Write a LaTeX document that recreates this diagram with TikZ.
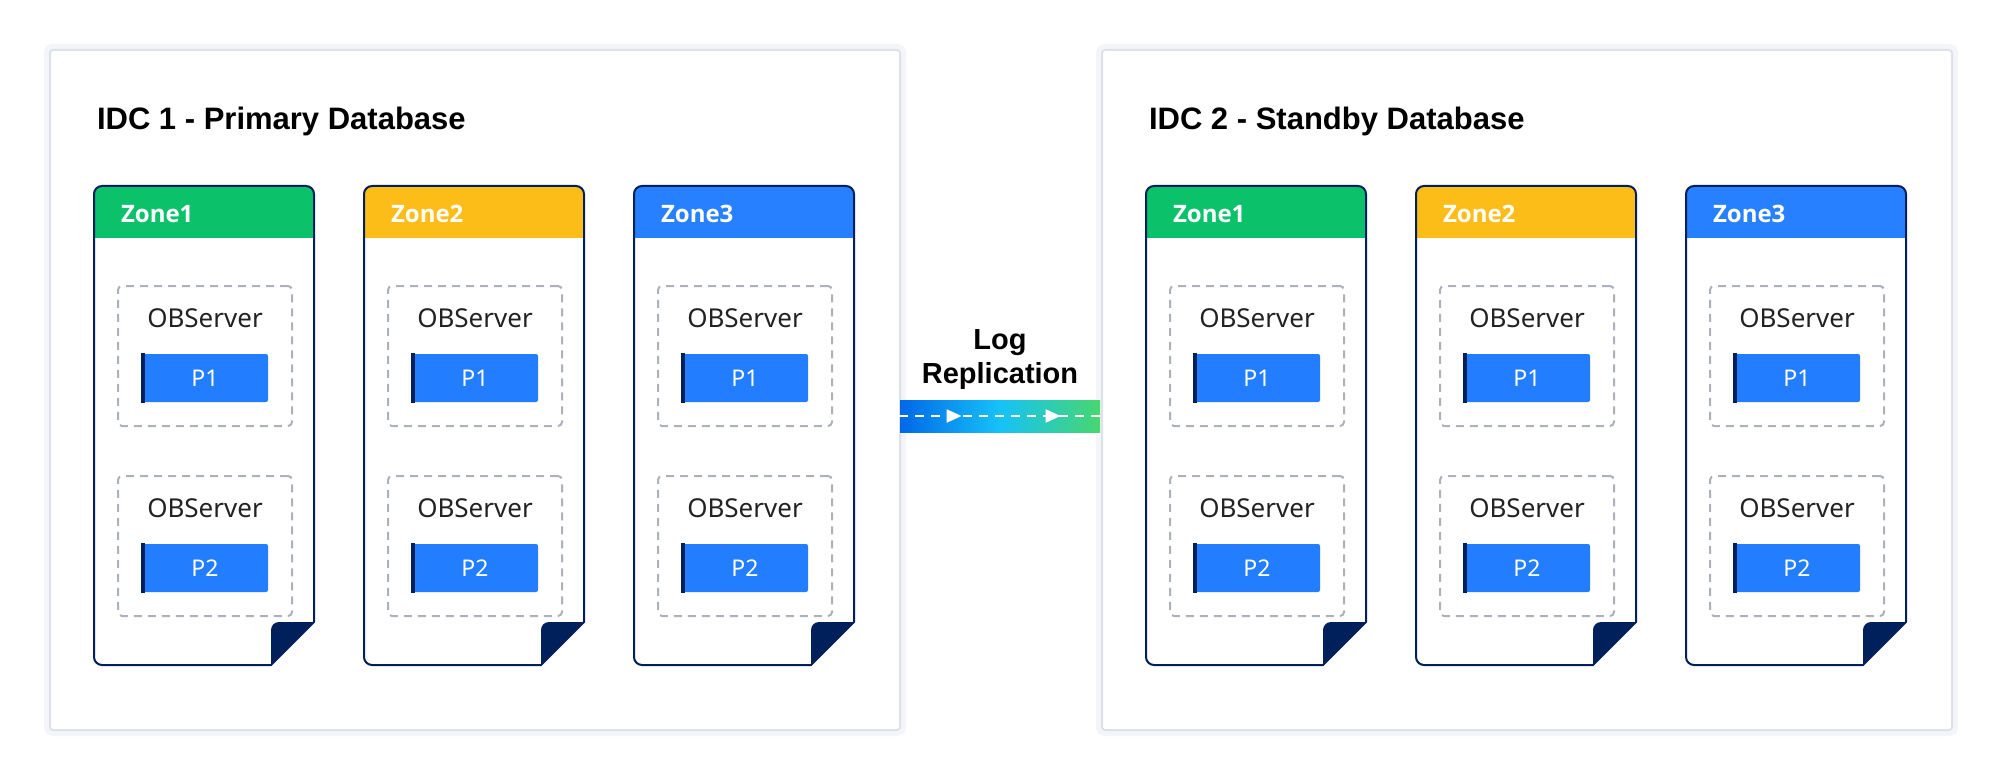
\documentclass[tikz,border=0pt]{standalone}
\usepackage{fontspec}
\setmainfont{Noto Sans}
\newfontfamily\headfont{Liberation Sans}
\newfontfamily\zonefont{Open Sans}
\usepackage{tikz}
\usetikzlibrary{positioning, decorations.markings}
\usetikzlibrary{arrows.meta}

\definecolor{panelgray}{HTML}{DDE1E8}
\definecolor{panelglow}{HTML}{F3F5F9}
\definecolor{dashgray}{HTML}{ADB1BC}
\definecolor{textdark}{HTML}{222222}
\definecolor{partblue}{HTML}{237EFF}
\definecolor{docnavy}{HTML}{00205C}
\definecolor{zgreen}{HTML}{0BC26B}
\definecolor{zyellow}{HTML}{FDBD19}
\definecolor{zblue}{HTML}{2680FF}
\definecolor{bandblue}{HTML}{0068E8}
\definecolor{bandcyan}{HTML}{16C2F7}
\definecolor{bandgreen}{HTML}{47D76E}

\begin{document}
\begin{tikzpicture}[x=1pt,y=-1pt,line width=2pt,>={Triangle[length=15pt,width=13pt]}]
    \tikzstyle{every node}=[inner sep=0pt]
    \tikzstyle{panel}=[draw=panelgray,fill=white,rounded corners=3pt,minimum width=850pt,minimum height=680pt,anchor=north west,preaction={draw=panelglow,line width=12pt}]
    \tikzstyle{dctitle}=[font=\headfont\bfseries\fontsize{31}{37}\selectfont,anchor=base west]
    \tikzstyle{zonelabel}=[font=\zonefont\bfseries\fontsize{24}{29}\selectfont,text=white,anchor=base west]
    \tikzstyle{server}=[draw=dashgray,dash pattern=on 8pt off 6pt,rounded corners=4pt,minimum width=174pt,minimum height=140pt]
    \tikzstyle{srvlabel}=[font=\fontsize{26}{31}\selectfont,text=textdark]
    \tikzstyle{part}=[fill=partblue,rounded corners=2pt,minimum width=126pt,minimum height=48pt,text=white,font=\fontsize{23}{28}\selectfont]
    \tikzstyle{docline}=[draw=docnavy]
    \tikzstyle{logband}=[minimum width=200pt,minimum height=32pt,left color=bandblue,right color=bandgreen,middle color=bandcyan]
    \tikzstyle{flow}=[white,dash pattern=on 9pt off 7pt,postaction={decorate,decoration={markings,mark=at position 0.31 with {\arrow[white]{>}},mark=at position 0.8 with {\arrow[white]{>}}}}]

      \useasboundingbox (0,0) rectangle (2000,778);
      \fill[white] (0,0) rectangle (2000,778);

      \foreach \dc/\ox/\role in {1/0/Primary,2/1052/Standby}{
        \node[panel] (idc\dc) at (49+\ox,49) {};
        \node[dctitle] (title\dc) at (96+\ox,130) {IDC \dc\ - \role\ Database};
        \foreach \z/\bx/\zc in {1/94/zgreen,2/364/zyellow,3/634/zblue}{
          \pgfmathsetmacro{\zx}{\bx+\ox}
          % zone sheet with folded corner
          \fill[\zc] (\zx,238) -- (\zx,194) arc[start angle=180,end angle=90,radius=8pt] -- (\zx+212,186) arc[start angle=90,end angle=0,radius=8pt] -- (\zx+220,238) -- cycle;
          \draw[docline] (\zx,400) -- (\zx,194) arc[start angle=180,end angle=90,radius=8pt] -- (\zx+212,186) arc[start angle=90,end angle=0,radius=8pt] -- (\zx+220,622) -- (\zx+177,665) -- (\zx+8,665) arc[start angle=270,end angle=180,radius=8pt] -- cycle;
          \fill[docnavy] (\zx+177,665) -- (\zx+177,630) arc[start angle=180,end angle=90,radius=8pt] -- (\zx+220,622) -- cycle;
          \node[zonelabel] (d\dc z\z) at (\zx+26,223) {Zone\z};
          \foreach \p/\py in {1/378,2/568}{
            \node[part] (d\dc z\z p\p) at (\zx+111,\py) {P\p};
            \fill[docnavy] (d\dc z\z p\p.north west) rectangle ([xshift=4pt]d\dc z\z p\p.south west);
            \node[srvlabel,above=24pt of d\dc z\z p\p] (d\dc z\z s\p) {OBServer};
            \node[server] (d\dc z\z b\p) at (\zx+111,\py-22) {};
          }
        }
      }

      \node[logband] (log) at (1000,416) {};
      \draw[flow] (log.west) -- (log.east);
      \node[above=8pt of log,align=center,font=\headfont\bfseries\fontsize{29}{34}\selectfont] (loglabel) {Log\\Replication};
\end{tikzpicture}
\end{document}
